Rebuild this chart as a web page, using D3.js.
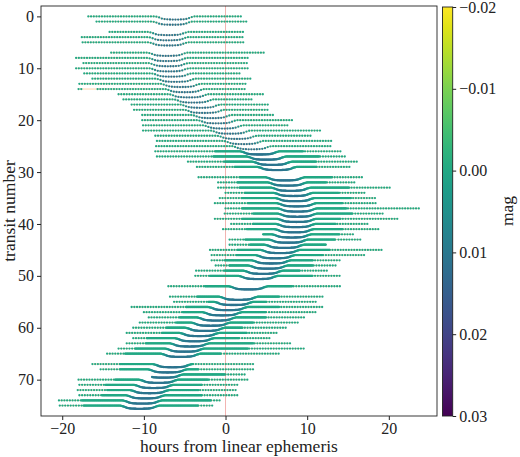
<!DOCTYPE html>
<html>
<head>
<meta charset="utf-8">
<script src="https://cdnjs.cloudflare.com/ajax/libs/d3/7.8.5/d3.min.js"></script>
<style>
  body { margin: 0; background: #fff; }
  svg { display: block; font-family: "Liberation Serif", serif; }
</style>
</head>
<body>
<div id="chart"></div>
<script>
// transits that have data, and per transit: first/last data point (hours from
// linear ephemeris), mid-transit time, and the span of short-cadence data
const transits = [0,1,3,4,5,7,8,9,10,11,12,13,14,15,16,17,18,19,20,21,22,23,24,25,
  26,27,28,29,31,32,33,34,35,36,37,38,39,40,41,42,43,44,45,46,47,48,49,50,
  52,54,55,56,57,58,59,60,61,62,63,64,65,67,68,69,70,71,72,73,74,75];
const startHours = [-16.8,-15.8,-14.2,-17.6,-17.5,-14.0,-18.3,-17.4,-18.3,-17.3,-16.3,-17.9,-18.0,-13.1,-12.5,-11.5,-11.2,-10.2,-10.2,-10.1,-10.1,-8.6,-8.4,-8.5,
  -8.6,-8.4,-4.6,-3.5,-3.3,-0.9,-0.9,0.0,-0.7,-1.3,0.0,-0.1,-1.3,0.7,-0.3,4.6,0.5,0.5,-1.9,-1.7,-1.7,-1.2,-3.6,-3.7,
  -7.0,-6.8,-6.3,-11.5,-10.0,-9.4,-10.5,-11.3,-12.1,-11.3,-12.1,-13.1,-14.5,-16.3,-15.3,-9.0,-18.0,-17.9,-18.1,-17.9,-20.4,-20.3];
const endHours = [2.0,2.6,2.3,2.3,2.2,4.8,2.9,2.9,3.0,2.0,3.1,2.5,2.6,4.7,3.2,5.3,5.3,5.8,8.4,7.6,11.6,10.5,13.2,13.0,
  14.3,14.8,16.2,15.4,16.8,16.0,20.4,17.3,18.6,18.6,23.7,19.5,21.3,17.6,19.0,15.6,16.7,12.3,19.2,17.0,14.2,13.5,12.5,14.1,
  14.1,11.9,11.1,12.1,11.3,9.9,8.9,7.4,6.4,5.6,8.2,9.7,6.6,3.4,3.4,2.6,2.8,1.7,1.5,1.7,-0.5,-1.5];
const midHours = [-6.2,-6.5,-7.0,-7.0,-7.0,-7.1,-7.1,-7.0,-6.9,-6.6,-6.1,-5.5,-5.0,-4.5,-3.9,-3.1,-2.6,-1.7,-1.0,-0.3,0.6,1.4,2.2,3.2,
  4.2,5.0,5.7,6.3,7.3,7.6,8.0,8.3,8.5,8.7,8.8,8.8,8.7,8.6,8.4,8.1,7.7,7.2,6.7,6.1,5.6,5.2,4.6,4.0,
  2.8,1.6,1.0,0.3,-0.4,-1.1,-1.8,-2.5,-3.2,-3.8,-4.4,-5.0,-5.5,-6.5,-7.1,-7.6,-8.2,-8.8,-9.3,-9.8,-10.2,-10.5];
const shortStart = [null,null,null,null,null,null,null,null,null,null,null,null,null,null,null,null,null,null,null,null,null,null,null,null,
  -1.3,-1.5,-0.1,1.1,1.7,1.5,1.7,2.4,2.0,2.8,2.0,3.4,2.0,3.4,2.6,4.6,2.4,3.0,1.5,1.3,-0.1,0.5,-0.1,-1.9,
  -2.5,-3.5,-2.1,-4.8,-5.2,-5.6,-6.0,-7.2,-7.8,-9.6,-9.8,-11.1,-12.3,-12.9,-12.9,-9.0,-13.5,-14.7,-14.5,-15.1,-17.6,-17.4];
const shortEnd = [null,null,null,null,null,null,null,null,null,null,null,null,null,null,null,null,null,null,null,null,null,null,null,null,
  9.5,11.5,11.1,11.1,13.1,12.3,15.2,13.9,15.4,14.3,14.8,15.6,14.1,13.5,14.3,14.0,13.5,12.3,12.7,11.9,10.7,10.7,9.1,10.7,
  8.2,6.6,5.0,6.6,5.0,5.0,3.4,2.1,2.6,1.7,3.4,2.8,-0.5,-4.0,-3.3,-0.1,-2.1,-2.9,-3.3,-2.9,-1.7,-3.3];
// stretches without data: transit, from, to
const gapTransit = [14, 57];
const gapFrom = [-17.5, -2.8];
const gapTo = [-15.7, -2.3];

// transit light curve (hours from mid-transit -> mag)
const profileHours = [-2.4, -2.0, -1.6, -1.2, -0.6, 0, 0.6, 1.2, 1.6, 2.0, 2.4];
const profileMag = [0, 0.003, 0.0075, 0.0098, 0.0108, 0.011, 0.0108, 0.0098, 0.0075, 0.003, 0];

const xTicks = [-20, -10, 0, 10, 20];
const yTicks = [0, 10, 20, 30, 40, 50, 60, 70];
const magTicks = [-0.02, -0.01, 0.00, 0.01, 0.02, 0.03];

const longCadence = 1 / 3;   // hours
const shortCadence = 0.08;   // hours
const magOffset = 56;        // transit-number units per mag

const width = 520, height = 457;
const plot = {left: 41, right: 437, top: 6, bottom: 416};

const svg = d3.select("#chart").append("svg")
    .attr("width", width)
    .attr("height", height);

const x = d3.scaleLinear().domain([-22.6, 25.9]).range([plot.left, plot.right]);
const y = d3.scaleLinear().domain([-2, 77]).range([plot.top, plot.bottom]);
const color = d3.scaleSequential(d3.interpolateViridis).domain([0.03, -0.02]);
const lightCurve = d3.scaleLinear().domain(profileHours).range(profileMag).clamp(true);

svg.append("clipPath").attr("id", "clip")
  .append("rect")
    .attr("x", plot.left).attr("y", plot.top)
    .attr("width", plot.right - plot.left).attr("height", plot.bottom - plot.top);

const area = svg.append("g").attr("clip-path", "url(#clip)");

// build the observations of each transit
const rows = transits.map((n, i) => {
  const inGap = t => gapTransit.some((g, k) => g === n && t > gapFrom[k] && t < gapTo[k]);
  const isShort = t => shortStart[i] !== null && t >= shortStart[i] && t <= shortEnd[i];
  const pt = t => ({t: t, mag: lightCurve(t - midHours[i]), n: n});
  const longPts = d3.range(startHours[i], endHours[i] + 1e-6, longCadence)
    .filter(t => !inGap(t) && !isShort(t)).map(pt);
  const shortPts = shortStart[i] === null ? []
    : d3.range(shortStart[i], shortEnd[i] + 1e-6, shortCadence).map(pt);
  return longPts.concat(shortPts).sort((a, b) => a.t - b.t);
});

// zero line
area.append("line")
    .attr("x1", x(0)).attr("x2", x(0))
    .attr("y1", plot.top).attr("y2", plot.bottom)
    .attr("stroke", "#e8776f")
    .attr("stroke-opacity", 0.7)
    .attr("stroke-width", 0.8);

const line = d3.line()
    .x(d => x(d.t))
    .y(d => y(d.n + d.mag * magOffset));

area.selectAll(".model")
  .data(rows)
  .join("path")
    .attr("class", "model")
    .attr("fill", "none")
    .attr("stroke", "#ff7f0e")
    .attr("stroke-opacity", 0.35)
    .attr("stroke-width", 1)
    .attr("d", line);

area.selectAll(".row")
  .data(rows)
  .join("g")
    .attr("class", "row")
  .selectAll("circle")
  .data(r => r)
  .join("circle")
    .attr("cx", d => x(d.t))
    .attr("cy", d => y(d.n + d.mag * magOffset))
    .attr("r", 1.15)
    .attr("fill", d => color(d.mag));

// frame and axes
svg.append("rect")
    .attr("x", plot.left).attr("y", plot.top)
    .attr("width", plot.right - plot.left).attr("height", plot.bottom - plot.top)
    .attr("fill", "none").attr("stroke", "#222").attr("stroke-width", 0.9);

const xAxis = svg.append("g")
    .attr("transform", `translate(0,${plot.bottom})`)
    .call(d3.axisBottom(x).tickValues(xTicks).tickFormat(d3.format("d")).tickSize(4).tickPadding(3));
const yAxis = svg.append("g")
    .attr("transform", `translate(${plot.left},0)`)
    .call(d3.axisLeft(y).tickValues(yTicks).tickFormat(d3.format("d")).tickSize(4).tickPadding(3));

[xAxis, yAxis].forEach(g => {
  g.select(".domain").remove();
  g.selectAll("line").attr("stroke", "#222");
  g.selectAll("text").attr("font-family", "Liberation Serif").attr("font-size", 16).attr("fill", "#222");
});

svg.append("text")
    .attr("x", (plot.left + plot.right) / 2)
    .attr("y", 452)
    .attr("text-anchor", "middle")
    .attr("font-size", 17.5)
    .attr("fill", "#222")
    .text("hours from linear ephemeris");

svg.append("text")
    .attr("transform", `translate(15,${(plot.top + plot.bottom) / 2}) rotate(-90)`)
    .attr("text-anchor", "middle")
    .attr("font-size", 17.5)
    .attr("fill", "#222")
    .text("transit number");

// colour bar
const cb = {left: 442.5, right: 452.7};
const c = d3.scaleLinear().domain([-0.02, 0.03]).range([plot.top + 1, plot.bottom]);
const grad = svg.append("defs").append("linearGradient")
    .attr("id", "cbar").attr("x1", 0).attr("x2", 0).attr("y1", 0).attr("y2", 1);
grad.selectAll("stop")
  .data(d3.range(0, 1.0001, 0.05))
  .join("stop")
    .attr("offset", d => d)
    .attr("stop-color", d => color(c.invert(c.range()[0] + d * (c.range()[1] - c.range()[0]))));

svg.append("rect")
    .attr("x", cb.left).attr("y", c.range()[0])
    .attr("width", cb.right - cb.left).attr("height", c.range()[1] - c.range()[0])
    .attr("fill", "url(#cbar)")
    .attr("stroke", "#222").attr("stroke-width", 0.9);

const cAxis = svg.append("g")
    .attr("transform", `translate(${cb.right},0)`)
    .call(d3.axisRight(c).tickValues(magTicks).tickFormat(d3.format(".2f")).tickSize(3.5).tickPadding(3));
cAxis.select(".domain").remove();
cAxis.selectAll("line").attr("stroke", "#222");
cAxis.selectAll("text").attr("font-family", "Liberation Serif").attr("font-size", 16).attr("fill", "#222");

svg.append("text")
    .attr("transform", `translate(513,${(plot.top + plot.bottom) / 2}) rotate(-90)`)
    .attr("text-anchor", "middle")
    .attr("font-size", 17.5)
    .attr("fill", "#222")
    .text("mag");
</script>
</body>
</html>
